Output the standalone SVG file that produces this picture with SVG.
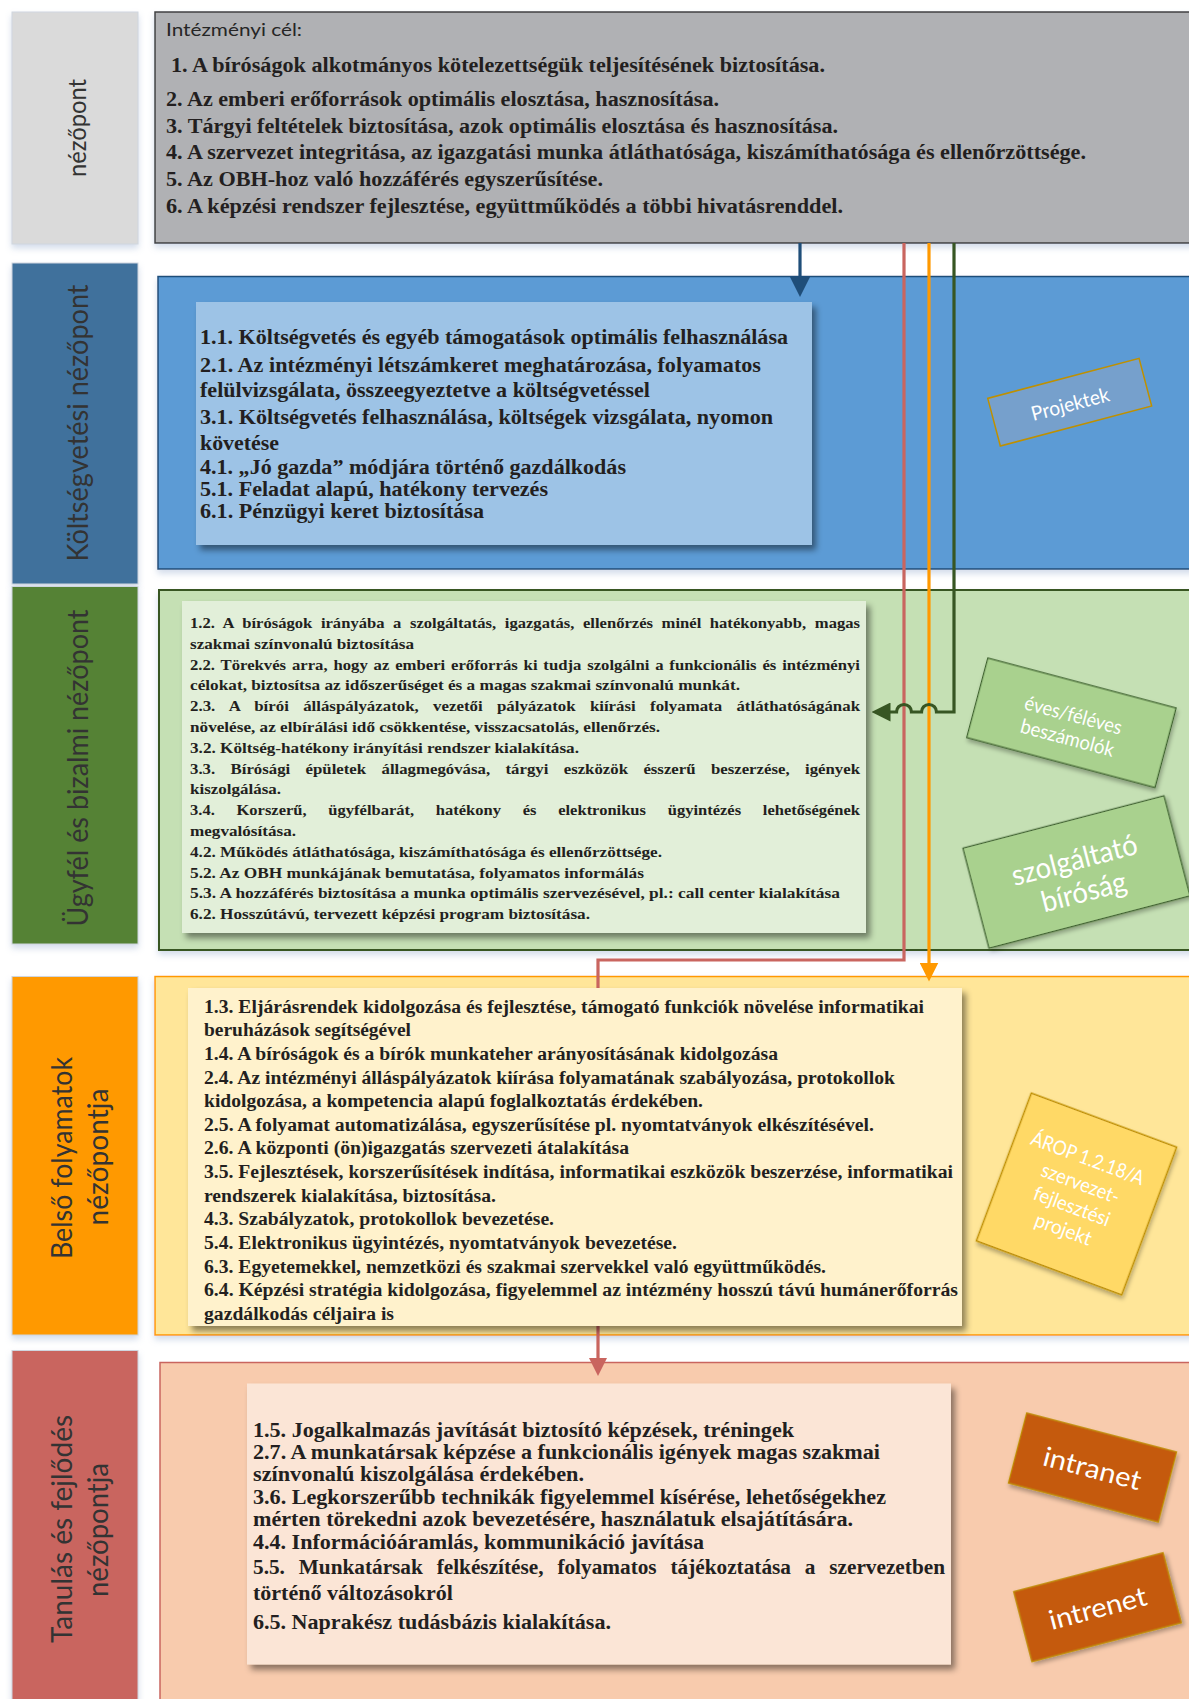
<svg xmlns="http://www.w3.org/2000/svg" width="1189" height="1699" viewBox="0 0 1189 1699">
<style>
.lbl{font-family:Lato,'Open Sans','Liberation Sans',sans-serif;fill:#333;text-anchor:middle;dominant-baseline:central}
.b{font-family:'Liberation Serif','Times New Roman',serif;font-weight:bold;fill:#231f20}
.tag{font-family:Lato,'Open Sans','Liberation Sans',sans-serif;fill:#fff;text-anchor:middle;dominant-baseline:central}
.conn{fill:none;stroke-width:3.2}
</style>
<defs>
<filter id="psh" x="-5%" y="-10%" width="110%" height="125%"><feDropShadow dx="0" dy="4" stdDeviation="3" flood-color="#9fb4d2" flood-opacity="0.45"/></filter>
<filter id="ish" x="-5%" y="-5%" width="115%" height="115%"><feDropShadow dx="4" dy="5" stdDeviation="3" flood-color="#000" flood-opacity="0.45"/></filter>
<filter id="tsh" x="-10%" y="-10%" width="125%" height="130%"><feDropShadow dx="2" dy="3" stdDeviation="2" flood-color="#000" flood-opacity="0.3"/></filter>
<marker id="aBlue" viewBox="0 0 20 20" refX="10" refY="10" markerWidth="20" markerHeight="20" markerUnits="userSpaceOnUse" orient="auto"><path d="M0,0 L20,10 L0,20 z" fill="#1f4e79"/></marker>
<marker id="aOrange" viewBox="0 0 20 20" refX="10" refY="10" markerWidth="19" markerHeight="19" markerUnits="userSpaceOnUse" orient="auto"><path d="M0,0 L20,10 L0,20 z" fill="#ff9900"/></marker>
<marker id="aRed" viewBox="0 0 20 20" refX="10" refY="10" markerWidth="20" markerHeight="18" markerUnits="userSpaceOnUse" orient="auto"><path d="M0,0 L20,10 L0,20 z" fill="#c9655f"/></marker>
<marker id="aGreen" viewBox="0 0 20 20" refX="10" refY="10" markerWidth="19" markerHeight="19" markerUnits="userSpaceOnUse" orient="auto"><path d="M0,0 L20,10 L0,20 z" fill="#375623"/></marker>
</defs>
<rect width="1189" height="1699" fill="#fff"/>

<!-- left column labels -->
<g id="lbl-nezopont">
<rect x="12" y="12" width="126" height="232" fill="#dadada" stroke="#cfd6df" filter="url(#psh)"/>
<text class="lbl" transform="translate(76,128) rotate(-90)" font-size="25" textLength="98" lengthAdjust="spacingAndGlyphs" fill="#404040">nézőpont</text>
</g>
<g id="lbl-koltsegvetesi">
<rect x="12" y="263" width="126" height="321" fill="#41719c" stroke="#cfd6df" filter="url(#psh)"/>
<text class="lbl" transform="translate(76,423) rotate(-90)" font-size="29" textLength="277" lengthAdjust="spacingAndGlyphs" fill="#262626">Költségvetési nézőpont</text>
</g>
<g id="lbl-ugyfel">
<rect x="12" y="586.5" width="126" height="357.5" fill="#548235" stroke="#cfd6df" filter="url(#psh)"/>
<text class="lbl" transform="translate(76,768) rotate(-90)" font-size="29" textLength="317" lengthAdjust="spacingAndGlyphs">Ügyfél és bizalmi nézőpont</text>
</g>
<g id="lbl-belso">
<rect x="12" y="976.5" width="126" height="358.5" fill="#ff9900" stroke="#cfd6df" filter="url(#psh)"/>
<text class="lbl" transform="translate(60,1158) rotate(-90)" font-size="29" textLength="202" lengthAdjust="spacingAndGlyphs">Belső folyamatok</text>
<text class="lbl" transform="translate(96,1157) rotate(-90)" font-size="29" textLength="137" lengthAdjust="spacingAndGlyphs">nézőpontja</text>
</g>
<g id="lbl-tanulas">
<rect x="12" y="1350.5" width="126" height="360" fill="#c9655f" stroke="#cfd6df" filter="url(#psh)"/>
<text class="lbl" transform="translate(60,1529) rotate(-90)" font-size="29" textLength="228" lengthAdjust="spacingAndGlyphs">Tanulás és fejlődés</text>
<text class="lbl" transform="translate(96,1530) rotate(-90)" font-size="29" textLength="134" lengthAdjust="spacingAndGlyphs">nézőpontja</text>
</g>

<!-- section panels -->
<g id="panel-cel">
<rect x="155" y="12" width="1050" height="231" fill="#b0b1b4" stroke="#404040" stroke-width="1.5" filter="url(#psh)"/>
<text x="166" y="36" font-family="Lato,'Open Sans','Liberation Sans',sans-serif" font-size="18" fill="#262626" textLength="136" lengthAdjust="spacingAndGlyphs">Intézményi cél:</text>
<text class="b" font-size="20" x="171" y="72" textLength="654" lengthAdjust="spacingAndGlyphs">1. A bíróságok alkotmányos kötelezettségük teljesítésének biztosítása.</text>
<text class="b" font-size="20" x="166" y="106" textLength="553" lengthAdjust="spacingAndGlyphs">2. Az emberi erőforrások optimális elosztása, hasznosítása.</text>
<text class="b" font-size="20" x="166" y="133" textLength="672" lengthAdjust="spacingAndGlyphs">3. Tárgyi feltételek biztosítása, azok optimális elosztása és hasznosítása.</text>
<text class="b" font-size="20" x="166" y="159" textLength="920" lengthAdjust="spacingAndGlyphs">4. A szervezet integritása, az igazgatási munka átláthatósága, kiszámíthatósága és ellenőrzöttsége.</text>
<text class="b" font-size="20" x="166" y="186" textLength="437" lengthAdjust="spacingAndGlyphs">5. Az OBH-hoz való hozzáférés egyszerűsítése.</text>
<text class="b" font-size="20" x="166" y="213" textLength="677" lengthAdjust="spacingAndGlyphs">6. A képzési rendszer fejlesztése, együttműködés a többi hivatásrenddel.</text>
</g>
<g id="panel-koltseg">
<rect x="158" y="276.5" width="1050" height="292.5" fill="#5b9bd5" stroke="#1f4e79" stroke-width="1.5" filter="url(#psh)"/>
</g>
<g id="panel-ugyfel">
<rect x="159" y="590" width="1050" height="360" fill="#c5e0b4" stroke="#385723" stroke-width="2" filter="url(#psh)"/>
</g>
<g id="panel-belso">
<rect x="155" y="976.5" width="1050" height="358.5" fill="#ffe699" stroke="#ff9900" stroke-width="1.5" filter="url(#psh)"/>
</g>
<g id="panel-tanulas">
<rect x="160" y="1362.5" width="1050" height="350" fill="#f8cbad" stroke="#c9655f" stroke-width="1.5"/>
</g>

<!-- connectors -->
<g id="connectors">
<path class="conn" d="M800,243 V287" stroke="#1f4e79" marker-end="url(#aBlue)"/>
<path class="conn" d="M904,243 V960 H598 V1367" stroke="#c9655f" marker-end="url(#aRed)"/>
<path class="conn" d="M929,243 V972" stroke="#ff9900" marker-end="url(#aOrange)"/>
<path class="conn" d="M954,243 V712 H936.5 a7.5,7.5 0 0 0 -15,0 H911.5 a7.5,7.5 0 0 0 -15,0 H881" stroke="#375623" marker-end="url(#aGreen)"/>
</g>

<!-- content boxes -->
<g id="node-koltseg">
<rect x="196" y="302" width="616" height="243" fill="#9dc3e6" filter="url(#ish)"/>
<text class="b" font-size="22" x="200" y="344" textLength="588" lengthAdjust="spacingAndGlyphs">1.1. Költségvetés és egyéb támogatások optimális felhasználása</text>
<text class="b" font-size="22" x="200" y="372" textLength="561" lengthAdjust="spacingAndGlyphs">2.1. Az intézményi létszámkeret meghatározása, folyamatos</text>
<text class="b" font-size="22" x="200" y="397" textLength="450" lengthAdjust="spacingAndGlyphs">felülvizsgálata, összeegyeztetve a költségvetéssel</text>
<text class="b" font-size="22" x="200" y="424" textLength="573" lengthAdjust="spacingAndGlyphs">3.1. Költségvetés felhasználása, költségek vizsgálata, nyomon</text>
<text class="b" font-size="22" x="200" y="450" textLength="79" lengthAdjust="spacingAndGlyphs">követése</text>
<text class="b" font-size="22" x="200" y="474" textLength="426" lengthAdjust="spacingAndGlyphs">4.1. „Jó gazda” módjára történő gazdálkodás</text>
<text class="b" font-size="22" x="200" y="496" textLength="348" lengthAdjust="spacingAndGlyphs">5.1. Feladat alapú, hatékony tervezés</text>
<text class="b" font-size="22" x="200" y="518" textLength="284" lengthAdjust="spacingAndGlyphs">6.1. Pénzügyi keret biztosítása</text>
</g>
<g id="node-ugyfel">
<rect x="182" y="601" width="684" height="332" fill="#e2efd9" filter="url(#ish)"/>
<text class="b" font-size="15" x="190" y="628" word-spacing="4" textLength="670" lengthAdjust="spacingAndGlyphs">1.2. A bíróságok irányába a szolgáltatás, igazgatás, ellenőrzés minél hatékonyabb, magas</text>
<text class="b" font-size="15" x="190" y="648.8" textLength="224" lengthAdjust="spacingAndGlyphs">szakmai színvonalú biztosítása</text>
<text class="b" font-size="15" x="190" y="669.6" word-spacing="1.5" textLength="670" lengthAdjust="spacingAndGlyphs">2.2. Törekvés arra, hogy az emberi erőforrás ki tudja szolgálni a funkcionális és intézményi</text>
<text class="b" font-size="15" x="190" y="690.4" textLength="550" lengthAdjust="spacingAndGlyphs">célokat, biztosítsa az időszerűséget és a magas szakmai színvonalú munkát.</text>
<text class="b" font-size="15" x="190" y="711.2" word-spacing="9" textLength="670" lengthAdjust="spacingAndGlyphs">2.3. A bírói álláspályázatok, vezetői pályázatok kiírási folyamata átláthatóságának</text>
<text class="b" font-size="15" x="190" y="732" textLength="470" lengthAdjust="spacingAndGlyphs">növelése, az elbírálási idő csökkentése, visszacsatolás, ellenőrzés.</text>
<text class="b" font-size="15" x="190" y="752.8" textLength="389" lengthAdjust="spacingAndGlyphs">3.2. Költség-hatékony irányítási rendszer kialakítása.</text>
<text class="b" font-size="15" x="190" y="773.6" word-spacing="10" textLength="670" lengthAdjust="spacingAndGlyphs">3.3. Bírósági épületek állagmegóvása, tárgyi eszközök ésszerű beszerzése, igények</text>
<text class="b" font-size="15" x="190" y="794.4" textLength="91" lengthAdjust="spacingAndGlyphs">kiszolgálása.</text>
<text class="b" font-size="15" x="190" y="815.2" word-spacing="16" textLength="670" lengthAdjust="spacingAndGlyphs">3.4. Korszerű, ügyfélbarát, hatékony és elektronikus ügyintézés lehetőségének</text>
<text class="b" font-size="15" x="190" y="836" textLength="106" lengthAdjust="spacingAndGlyphs">megvalósítása.</text>
<text class="b" font-size="15" x="190" y="856.8" textLength="472" lengthAdjust="spacingAndGlyphs">4.2. Működés átláthatósága, kiszámíthatósága és ellenőrzöttsége.</text>
<text class="b" font-size="15" x="190" y="877.6" textLength="454" lengthAdjust="spacingAndGlyphs">5.2. Az OBH munkájának bemutatása, folyamatos informálás</text>
<text class="b" font-size="15" x="190" y="898.4" textLength="650" lengthAdjust="spacingAndGlyphs">5.3.  A hozzáférés biztosítása a munka optimális szervezésével, pl.: call center kialakítása</text>
<text class="b" font-size="15" x="190" y="919.2" textLength="400" lengthAdjust="spacingAndGlyphs">6.2. Hosszútávú, tervezett képzési program biztosítása.</text>
</g>
<g id="node-belso">
<rect x="188" y="988" width="774" height="338" fill="#fff2cc" filter="url(#ish)"/>
<text class="b" font-size="18" x="204" y="1012.5" textLength="720" lengthAdjust="spacingAndGlyphs">1.3. Eljárásrendek kidolgozása és fejlesztése, támogató funkciók növelése informatikai</text>
<text class="b" font-size="18" x="204" y="1036.2" textLength="207" lengthAdjust="spacingAndGlyphs">beruházások segítségével</text>
<text class="b" font-size="18" x="204" y="1059.8" textLength="574" lengthAdjust="spacingAndGlyphs">1.4. A bíróságok és a bírók munkateher arányosításának kidolgozása</text>
<text class="b" font-size="18" x="204" y="1083.5" textLength="691" lengthAdjust="spacingAndGlyphs">2.4. Az intézményi álláspályázatok kiírása folyamatának szabályozása, protokollok</text>
<text class="b" font-size="18" x="204" y="1107.1" textLength="499" lengthAdjust="spacingAndGlyphs">kidolgozása, a kompetencia alapú foglalkoztatás érdekében.</text>
<text class="b" font-size="18" x="204" y="1130.8" textLength="670" lengthAdjust="spacingAndGlyphs">2.5. A folyamat automatizálása, egyszerűsítése pl. nyomtatványok elkészítésével.</text>
<text class="b" font-size="18" x="204" y="1154.4" textLength="425" lengthAdjust="spacingAndGlyphs">2.6. A központi (ön)igazgatás szervezeti átalakítása</text>
<text class="b" font-size="18" x="204" y="1178.1" textLength="749" lengthAdjust="spacingAndGlyphs">3.5. Fejlesztések, korszerűsítések indítása, informatikai eszközök beszerzése, informatikai</text>
<text class="b" font-size="18" x="204" y="1201.7" textLength="292" lengthAdjust="spacingAndGlyphs">rendszerek kialakítása, biztosítása.</text>
<text class="b" font-size="18" x="204" y="1225.4" textLength="350" lengthAdjust="spacingAndGlyphs">4.3. Szabályzatok, protokollok bevezetése.</text>
<text class="b" font-size="18" x="204" y="1249" textLength="473" lengthAdjust="spacingAndGlyphs">5.4. Elektronikus ügyintézés, nyomtatványok bevezetése.</text>
<text class="b" font-size="18" x="204" y="1272.7" textLength="622" lengthAdjust="spacingAndGlyphs">6.3. Egyetemekkel, nemzetközi és szakmai szervekkel való együttműködés.</text>
<text class="b" font-size="18" x="204" y="1296.3" textLength="754" lengthAdjust="spacingAndGlyphs">6.4. Képzési stratégia kidolgozása, figyelemmel az intézmény hosszú távú humánerőforrás</text>
<text class="b" font-size="18" x="204" y="1320" textLength="190" lengthAdjust="spacingAndGlyphs">gazdálkodás céljaira is</text>
</g>
<g id="node-tanulas">
<rect x="247" y="1383.5" width="704" height="281" fill="#fbe5d6" filter="url(#ish)"/>
<text class="b" font-size="20" x="253" y="1437" textLength="541" lengthAdjust="spacingAndGlyphs">1.5. Jogalkalmazás javítását biztosító képzések, tréningek</text>
<text class="b" font-size="20" x="253" y="1459" textLength="627" lengthAdjust="spacingAndGlyphs">2.7. A munkatársak képzése a funkcionális igények magas szakmai</text>
<text class="b" font-size="20" x="253" y="1481" textLength="331" lengthAdjust="spacingAndGlyphs">színvonalú kiszolgálása érdekében.</text>
<text class="b" font-size="20" x="253" y="1504" textLength="633" lengthAdjust="spacingAndGlyphs">3.6. Legkorszerűbb technikák figyelemmel kísérése, lehetőségekhez</text>
<text class="b" font-size="20" x="253" y="1526" textLength="600" lengthAdjust="spacingAndGlyphs">mérten törekedni azok bevezetésére, használatuk elsajátítására.</text>
<text class="b" font-size="20" x="253" y="1549" textLength="451" lengthAdjust="spacingAndGlyphs">4.4. Információáramlás, kommunikáció javítása</text>
<text class="b" font-size="20" x="253" y="1574" word-spacing="8" textLength="692" lengthAdjust="spacingAndGlyphs">5.5. Munkatársak felkészítése, folyamatos tájékoztatása a szervezetben</text>
<text class="b" font-size="20" x="253" y="1600" textLength="200" lengthAdjust="spacingAndGlyphs">történő változásokról</text>
<text class="b" font-size="20" x="253" y="1629" textLength="358" lengthAdjust="spacingAndGlyphs">6.5. Naprakész tudásbázis kialakítása.</text>
</g>

<!-- tags -->
<g id="tag-projektek" transform="translate(1069.7,402.2) rotate(-14.8)">
<rect x="-78.25" y="-24.65" width="156.5" height="49.3" fill="#76a0cc" stroke="#bf9000" stroke-width="1.5"/>
<text class="tag" x="0" y="1" font-size="20" textLength="80" lengthAdjust="spacingAndGlyphs">Projektek</text>
</g>
<g id="tag-beszamolok" transform="translate(1071.4,722.8) rotate(14.87)">
<rect x="-97.4" y="-41.15" width="194.8" height="82.3" fill="#a9d18e" stroke="#3b5e2b" stroke-width="1.2" filter="url(#tsh)"/>
<text class="tag" x="0" y="-9" font-size="20" textLength="100" lengthAdjust="spacingAndGlyphs">éves/féléves</text>
<text class="tag" x="0" y="14.5" font-size="20" textLength="96" lengthAdjust="spacingAndGlyphs">beszámolók</text>
</g>
<g id="tag-szolgaltato" transform="translate(1076.5,872) rotate(-14.6)">
<rect x="-103.85" y="-51.65" width="207.7" height="103.3" fill="#a9d18e" stroke="#3b5e2b" stroke-width="1.2" filter="url(#tsh)"/>
<text class="tag" x="1" y="-13.7" font-size="29" textLength="129" lengthAdjust="spacingAndGlyphs">szolgáltató</text>
<text class="tag" x="2" y="19.5" font-size="29" textLength="87" lengthAdjust="spacingAndGlyphs">bíróság</text>
</g>
<g id="tag-arop" transform="translate(1076.5,1194) rotate(20.4)">
<rect x="-77.5" y="-78.75" width="155" height="157.5" fill="#ffd966" stroke="#bf9000" stroke-width="1.5" filter="url(#tsh)"/>
<text class="tag" x="-2" y="-38.5" font-size="20" textLength="119" lengthAdjust="spacingAndGlyphs">ÁROP 1.2.18/A</text>
<text class="tag" x="0" y="-12.5" font-size="20" textLength="82" lengthAdjust="spacingAndGlyphs">szervezet-</text>
<text class="tag" x="0" y="12" font-size="20" textLength="80" lengthAdjust="spacingAndGlyphs">fejlesztési</text>
<text class="tag" x="0" y="36.5" font-size="20" textLength="59" lengthAdjust="spacingAndGlyphs">projekt</text>
</g>
<g id="tag-intranet" transform="translate(1092.5,1467.5) rotate(14.6)">
<rect x="-77.5" y="-36.2" width="155" height="72.4" fill="#c55a11" stroke="#bf9000" stroke-width="1.2" filter="url(#tsh)"/>
<text class="tag" x="0" y="0" font-size="27" textLength="100" lengthAdjust="spacingAndGlyphs">intranet</text>
</g>
<g id="tag-intrenet" transform="translate(1097.5,1607.2) rotate(-14.6)">
<rect x="-77.2" y="-36.2" width="154.4" height="72.4" fill="#c55a11" stroke="#bf9000" stroke-width="1.2" filter="url(#tsh)"/>
<text class="tag" x="0" y="0" font-size="27" textLength="100" lengthAdjust="spacingAndGlyphs">intrenet</text>
</g>
</svg>
